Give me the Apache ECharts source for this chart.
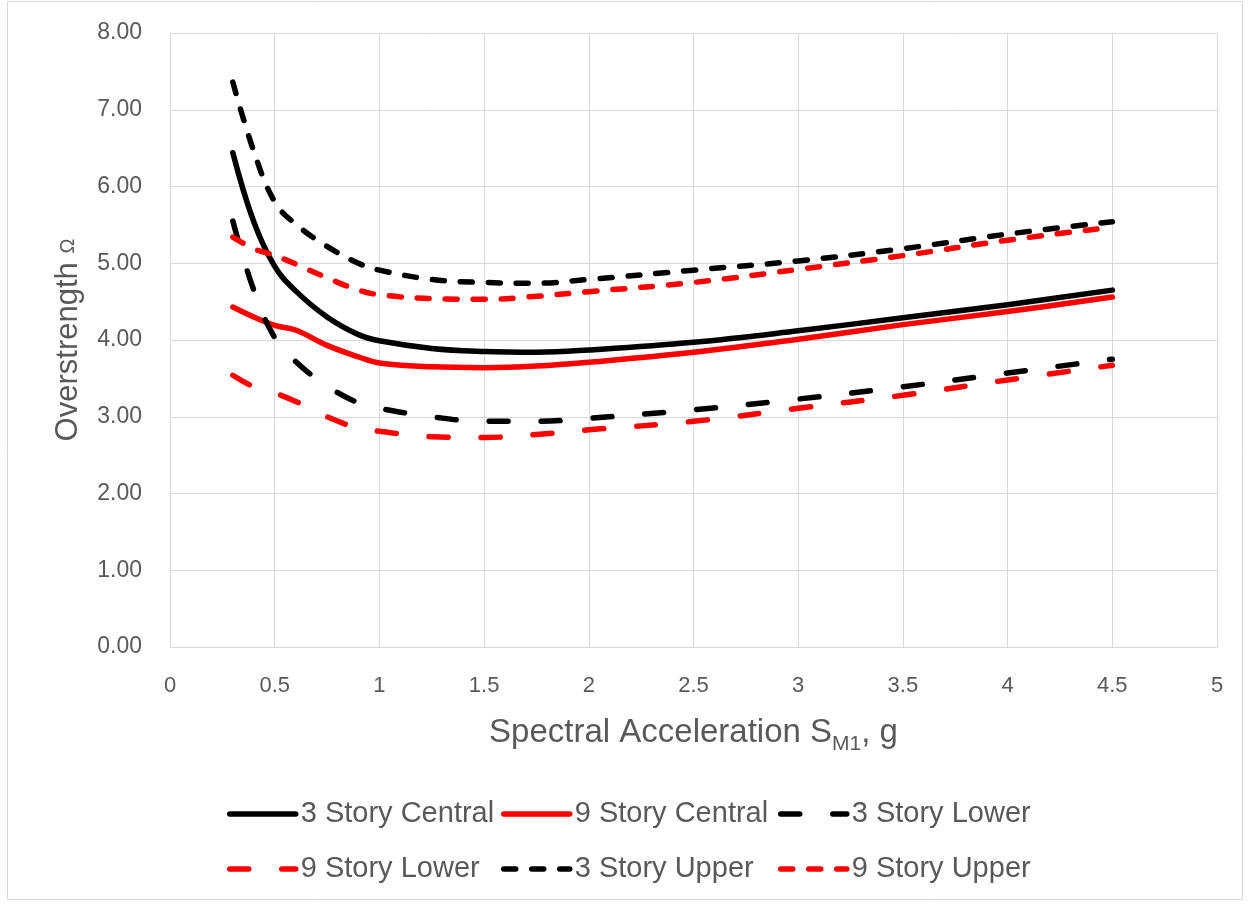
<!DOCTYPE html>
<html>
<head>
<meta charset="utf-8">
<script src="https://cdn.jsdelivr.net/npm/echarts@6/dist/echarts.min.js"></script>
<style>
html,body{margin:0;padding:0;background:#fff;}
#chart{width:1250px;height:904px;}
</style>
</head>
<body>
<div id="chart"></div>
<script>
var xValues = [0.3, 0.4, 0.5, 0.6, 0.75, 0.9, 1.0, 1.25, 1.5, 1.75, 2.0, 2.5, 3.0, 3.5, 4.0, 4.5];
var story3Central = [6.44, 5.54, 4.96, 4.64, 4.30, 4.07, 3.99, 3.89, 3.85, 3.84, 3.87, 3.97, 4.12, 4.29, 4.46, 4.65];
var story9Central = [4.43, 4.30, 4.19, 4.13, 3.93, 3.78, 3.70, 3.65, 3.64, 3.66, 3.71, 3.84, 4.01, 4.20, 4.37, 4.56];
var story3Lower   = [5.55, 4.65, 4.03, 3.72, 3.40, 3.18, 3.11, 3.00, 2.94, 2.94, 2.98, 3.09, 3.23, 3.39, 3.57, 3.75];
var story9Lower   = [3.54, 3.39, 3.31, 3.20, 3.00, 2.85, 2.81, 2.74, 2.73, 2.77, 2.83, 2.94, 3.11, 3.28, 3.48, 3.67];
var story3Upper   = [7.36, 6.46, 5.80, 5.51, 5.22, 5.00, 4.91, 4.79, 4.75, 4.74, 4.79, 4.91, 5.03, 5.19, 5.38, 5.54];
var story9Upper   = [5.34, 5.19, 5.10, 4.99, 4.81, 4.65, 4.59, 4.54, 4.53, 4.57, 4.63, 4.75, 4.92, 5.10, 5.30, 5.47];
var seriesNames = ['3 Story Central', '9 Story Central', '3 Story Lower', '9 Story Lower', '3 Story Upper', '9 Story Upper'];

var FONT = 'Liberation Sans, Arial, sans-serif';
var TXT = '#595959';
var GRID = '#d9d9d9';

function pairs(ys) { return xValues.map(function (x, i) { return [x, ys[i]]; }); }

var LW = 5.5;
var LONG_DASH = [19, 33];
var SHORT_DASH = [12, 16];

function mk(name, ys, color, type) {
  return {
    name: name, type: 'line', data: pairs(ys),
    smooth: 0.4, symbol: 'none', showSymbol: false,
    lineStyle: { color: color, width: LW, type: type, cap: 'round', join: 'round' },
    itemStyle: { color: color },
    emphasis: { disabled: true }
  };
}

function lg(left, data) {
  return {
    orient: 'vertical', left: left, top: 794, itemWidth: 66, itemHeight: 14, itemGap: 25,
    data: data, selectedMode: false,
    itemStyle: { opacity: 0 },
    lineStyle: { width: LW, cap: 'round' },
    textStyle: { color: TXT, fontSize: 29, fontFamily: FONT, lineHeight: 30 }
  };
}

var option = {
  animation: false,
  backgroundColor: '#fff',
  graphic: [{
    type: 'rect', shape: { x: 7.5, y: 1.5, width: 1235, height: 898 },
    style: { fill: 'none', stroke: GRID, lineWidth: 1 }, silent: true
  }],
  grid: { left: 170, right: 33, top: 33, bottom: 257, containLabel: false },
  legend: [
    lg(222, ['3 Story Central', '9 Story Lower']),
    lg(496, ['9 Story Central', '3 Story Upper']),
    lg(773, ['3 Story Lower', '9 Story Upper'])
  ],
  xAxis: {
    type: 'value', min: 0, max: 5, interval: 0.5,
    name: '{a|Spectral Acceleration S}{s|M1}{a|, g}',
    nameLocation: 'middle', nameGap: 66,
    nameTextStyle: {
      rich: {
        a: { fontSize: 33, color: TXT, fontFamily: FONT, verticalAlign: 'bottom', lineHeight: 36 },
        s: { fontSize: 21, color: TXT, fontFamily: FONT, verticalAlign: 'bottom', lineHeight: 30, padding: [0, 0, -6, 0] }
      }
    },
    axisLine: { show: true, lineStyle: { color: GRID, width: 1 } },
    axisTick: { show: false },
    axisLabel: { color: TXT, fontSize: 22, fontFamily: FONT, margin: 28 },
    splitLine: { show: true, lineStyle: { color: GRID, width: 1 } }
  },
  yAxis: {
    type: 'value', min: 0, max: 8, interval: 1,
    name: '{a|Overstrength }{s|Ω}',
    nameLocation: 'middle', nameGap: 86, nameRotate: 90,
    nameTextStyle: {
      rich: {
        a: { fontSize: 31, color: TXT, fontFamily: FONT },
        s: { fontSize: 20, color: TXT, fontFamily: FONT }
      }
    },
    axisLine: { show: false },
    axisTick: { show: false },
    axisLabel: { color: TXT, fontSize: 23, fontFamily: FONT, margin: 28, formatter: function (v) { return v.toFixed(2); } },
    splitLine: { show: true, lineStyle: { color: GRID, width: 1 } }
  },
  series: [
    mk(seriesNames[0], story3Central, '#000000', 'solid'),
    mk(seriesNames[1], story9Central, '#ff0000', 'solid'),
    mk(seriesNames[2], story3Lower, '#000000', LONG_DASH),
    mk(seriesNames[3], story9Lower, '#ff0000', LONG_DASH),
    mk(seriesNames[4], story3Upper, '#000000', SHORT_DASH),
    mk(seriesNames[5], story9Upper, '#ff0000', SHORT_DASH)
  ]
};

var chart = echarts.init(document.getElementById('chart'), null, { renderer: 'canvas' });
chart.setOption(option);
</script>
</body>
</html>
